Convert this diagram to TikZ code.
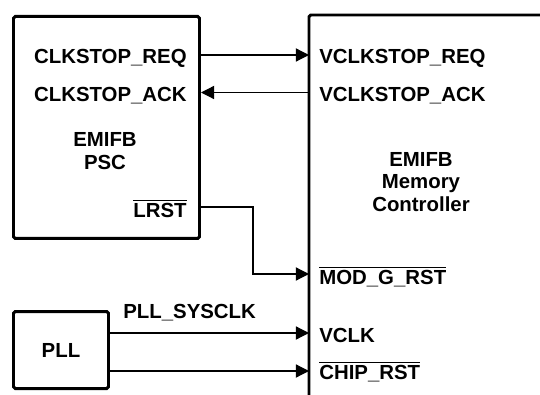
\documentclass[tikz,border=0pt]{standalone}
\usepackage{fontspec}
\setmainfont{Liberation Sans}
\usetikzlibrary{arrows.meta,positioning}

\newcommand{\ovl}[1]{$\overline{\mbox{#1}}$}

\begin{document}
\begin{tikzpicture}[every node/.style={font=\bfseries\fontsize{11.6}{13}\selectfont},
  blk/.style={draw,line width=1.7pt,rounded corners=1pt,inner sep=0pt},
  sig/.style={line width=0.7pt,-{Triangle[length=7.5pt,width=7.5pt]}},
  pin/.style={inner sep=0pt}]

\useasboundingbox (0,0) rectangle (10.8,7.88);
\clip (0,0) rectangle (10.8,7.88);

% blocks
\node [blk,minimum width=3.72cm,minimum height=4.44cm,anchor=north west] (psc) at (0.24,7.58) {};
\node [blk,minimum width=1.9cm,minimum height=1.54cm,anchor=south west] (pll) at (0.24,0.08) {PLL};
\coordinate (mc) at (6.18,7.58);
\draw [line width=1.7pt,rounded corners=1pt] (11,7.58) -- (mc) -- (6.18,-0.2);

% block names
\node [align=center] (pscname) at (2.10,4.86) {EMIFB\\PSC};
\node [align=center] (mcname) at (8.42,4.24) {EMIFB\\Memory\\Controller};

% psc pins
\node [pin,anchor=base east] (req) at (3.74,6.60) {CLKSTOP\_REQ};
\node [pin,anchor=base east] (ack) at (3.74,5.85) {CLKSTOP\_ACK};
\node [pin,anchor=base east] (lrst) at (3.74,3.54) {\ovl{LRST}};

% controller pins
\node [pin,anchor=base west] (vreq) at (6.38,6.60) {VCLKSTOP\_REQ};
\node [pin,anchor=base west] (vack) at (6.38,5.85) {VCLKSTOP\_ACK};
\node [pin,anchor=base west] (modrst) at (6.38,2.20) {\ovl{MOD\_G\_RST}};
\node [pin,anchor=base west] (vclk) at (6.38,1.04) {VCLK};
\node [pin,anchor=base west] (chiprst) at (6.38,0.30) {\ovl{CHIP\_RST}};

\coordinate (reqin) at (6.18,6.78);
\coordinate (ackout) at (6.18,6.03);
\coordinate (modin) at (6.18,2.40);
\coordinate (clkin) at (6.18,1.22);
\coordinate (chipin) at (6.18,0.46);
\coordinate (bend) at (5.06,3.74);

% connectors
\draw [sig] (psc.east |- reqin) -- (reqin);
\draw [sig] (ackout) -- (psc.east |- ackout);
\draw [sig] (psc.east |- bend) -- (bend) |- (modin);
\draw [sig] (pll.east |- clkin) -- (clkin);
\draw [sig] (pll.east |- chipin) -- (chipin);

\node [pin,anchor=base west] (sysclk) at (2.46,1.52) {PLL\_SYSCLK};

\end{tikzpicture}
\end{document}
